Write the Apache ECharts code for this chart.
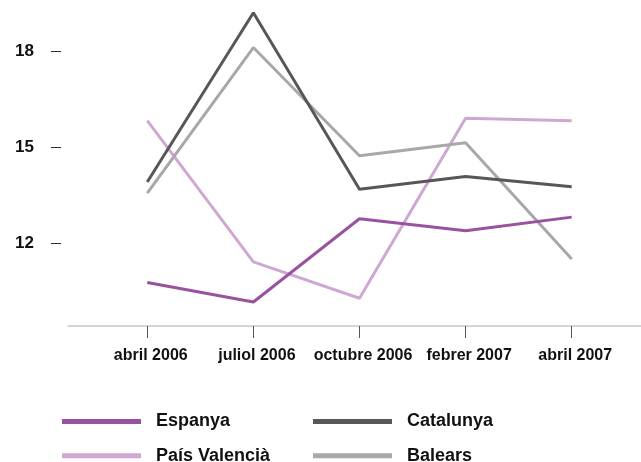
<!DOCTYPE html>
<html>
<head>
<meta charset="utf-8">
<script src="https://cdn.jsdelivr.net/npm/echarts@6/dist/echarts.min.js"></script>
<style>
  html, body { margin: 0; padding: 0; background: #fff; }
  #chart { width: 641px; height: 462px; }
</style>
</head>
<body>
<div id="chart"></div>
<script>
// categories (x) and values
const categories = ['abril 2006', 'juliol 2006', 'octubre 2006', 'febrer 2007', 'abril 2007'];
const espanya = [10.77, 10.16, 12.77, 12.39, 12.82];
const catalunya = [13.92, 19.22, 13.69, 14.09, 13.77];
const paisValencia = [15.84, 11.42, 10.28, 15.92, 15.84];
const balears = [13.57, 18.13, 14.74, 15.15, 11.51];
const yTicks = [12, 15, 18];

const FONT = '"Helvetica Neue", Helvetica, Arial, sans-serif';

function toPoints(values) {
  return values.map((v, i) => [i, v]);
}

function lineSeries(name, values, color) {
  return {
    name: name,
    type: 'line',
    data: toPoints(values),
    symbol: 'none',
    color: color,
    lineStyle: { width: 3, color: color },
    emphasis: { disabled: true }
  };
}

// one legend per item so the two columns line up like the original
function legendItem(name, left, top) {
  return {
    data: [name],
    left: left,
    top: top,
    padding: 0,
    icon: 'rect',
    itemWidth: 79,
    itemHeight: 5,
    selectedMode: false,
    textStyle: {
      fontFamily: FONT,
      fontSize: 18,
      fontWeight: 'bold',
      color: '#111',
      lineHeight: 20,
      padding: [0, 0, 0, 10]
    }
  };
}

const myChart = echarts.init(document.getElementById('chart'));

const option = {
  animation: false,
  grid: { left: 68, right: 0, top: 0, bottom: 136 },
  xAxis: {
    type: 'value',
    min: -0.747,
    max: 4.653,
    splitLine: { show: false },
    axisLine: { show: true, onZero: false, lineStyle: { color: '#c8c8c8', width: 1.5 } },
    axisTick: {
      show: true,
      customValues: [0, 1, 2, 3, 4],
      length: 12,
      lineStyle: { color: '#555', width: 1 }
    },
    axisLabel: {
      customValues: [0, 1, 2, 3, 4],
      formatter: (v) => categories[Math.round(v)],
      margin: 22,
      padding: [0, 0, 0, 7],
      fontFamily: FONT,
      fontSize: 16,
      fontWeight: 'bold',
      color: '#111'
    }
  },
  yAxis: {
    type: 'value',
    min: 9.41,
    max: 19.62,
    offset: 7,
    splitLine: { show: false },
    axisLine: { show: false, onZero: false },
    axisTick: {
      show: true,
      customValues: yTicks,
      length: 10,
      lineStyle: { color: '#333', width: 1 }
    },
    axisLabel: {
      customValues: yTicks,
      margin: 27,
      fontFamily: FONT,
      fontSize: 17,
      fontWeight: 'bold',
      color: '#111'
    }
  },
  legend: [
    legendItem('Espanya', 62, 411.5),
    legendItem('País Valencià', 62, 445.7),
    legendItem('Catalunya', 313, 411.5),
    legendItem('Balears', 313, 445.7)
  ],
  series: [
    lineSeries('País Valencià', paisValencia, '#cfa8d2'),
    lineSeries('Balears', balears, '#a8a8aa'),
    lineSeries('Catalunya', catalunya, '#575757'),
    lineSeries('Espanya', espanya, '#99529f')
  ]
};

myChart.setOption(option);
</script>
</body>
</html>
